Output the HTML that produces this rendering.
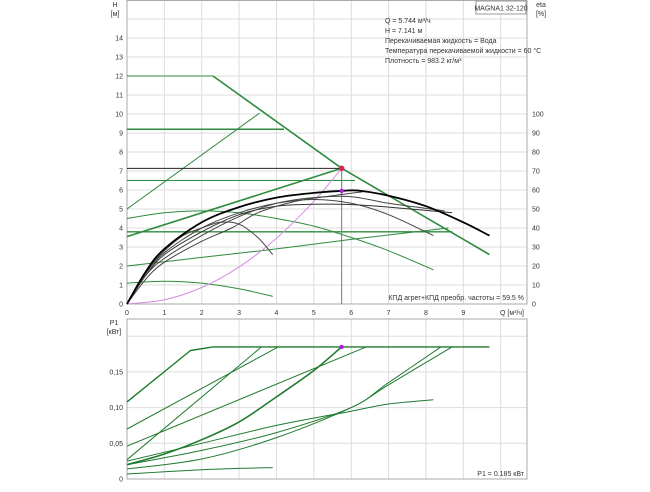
<!DOCTYPE html>
<html><head><meta charset="utf-8">
<style>
body{margin:0;background:#fff;font-family:"Liberation Sans","Noto Sans CJK SC",sans-serif;}
svg text{font-family:"Liberation Sans","DejaVu Sans",sans-serif;font-size:7px;fill:#333;}
</style></head>
<body>
<svg id="c" width="650" height="487" viewBox="0 0 650 487" xmlns="http://www.w3.org/2000/svg"></svg>
<script>
const qTicks=[0,1,2,3,4,5,6,7,8,9];
const hTicks=[0,1,2,3,4,5,6,7,8,9,10,11,12,13,14];
const etaTicks=[0,10,20,30,40,50,60,70,80,90,100];
const pTicks=[0,0.05,0.10,0.15];
const pTickLabels=["0","0,05","0,10","0,15"];
const dutyQ=5.744, dutyH=7.141, dutyEta=59.5, dutyP=0.185;
// H-curves (green)
const hMax=[[0,12],[2.3,12],[5.744,7.141],[9.7,2.6]];
const hLine2=[[0,5],[3.55,10.05]];
const hConst92=[[0,9.2],[4.2,9.2]];
const hConst65=[[0,6.5],[6.1,6.5]];
const hProp=[[0,3.55],[5.744,7.141]];
const hConst38=[[0,3.8],[8.7,3.8]];
const hLow=[[0,2],[2,2.45],[4,2.9],[6,3.4],[8.6,4.0]];
const hMid=[[0,4.5],[1,4.8],[2,4.9],[3,4.8],[4,4.5],[5,4.1],[6,3.5],[7,2.8],[8.2,1.8]];
const hMin=[[0,1.1],[1,1.2],[2,1.1],[3,0.8],[3.9,0.4]];
// efficiency curves (black, %)
const etaMain=[[0,0],[0.5,17],[1,29],[2,43],[3,51],[4,56],[5,58.5],[5.744,59.5],[6.2,59.7],[7,57],[8,51.5],[9,43],[9.7,36]];
const eta2=[[0,0],[0.5,16],[1,27],[2,40],[3,48],[4,53],[5,55],[6,53],[7,47],[8.2,36]];
const eta3=[[0,0],[0.5,15],[1,26],[2,38],[3,47],[4,51.5],[5,52.5],[6,52.3],[7,51],[8.7,48]];
const eta4=[[0,0],[0.5,17],[1,28],[1.5,36],[2,40],[2.5,43],[3,42],[3.5,35],[3.9,26]];
const eta5=[[0,0],[0.5,15],[1,24],[2,36],[3,46],[4,53],[5,56],[6,56.5],[7,53],[8.5,49]];
const eta6=[[0,0],[0.5,13],[1,22],[2,33],[2.8,40],[3.5,48],[4.5,54],[5.5,57],[6.3,59]];
// system curve (pink)
const sysCurve=[[0,0],[1,0.22],[2,0.87],[3,1.95],[4,3.46],[5,5.41],[5.744,7.141]];
// P1 curves (kW)
const pTop=[[0,0.108],[1.7,0.18],[2.3,0.185],[9.7,0.185]];
const p2=[[0,0.07],[4.05,0.185]];
const p3=[[0,0.027],[3.6,0.185]];
const p4=[[0,0.046],[6.4,0.185]];
const pDuty=[[0,0.02],[1,0.035],[2,0.055],[3,0.08],[4,0.115],[5,0.152],[5.744,0.185]];
const p6=[[0,0.025],[2,0.05],[4,0.075],[6,0.095],[7,0.105],[8.2,0.111]];
const p7=[[0,0.02],[2,0.04],[4,0.065],[6,0.1],[7,0.135],[8.4,0.185]];
const p8=[[0,0.014],[2,0.028],[4,0.058],[6,0.1],[7,0.132],[8.7,0.185]];
const p9=[[0,0.007],[2,0.013],[3.9,0.016]];

const X0=127,XPU=37.37,XR=527;
const xs=q=>X0+q*XPU;
const yH=h=>304-h*19;
const yE=e=>304-e*1.9;
const yP=p=>479-p*714;
const NS="http://www.w3.org/2000/svg";
const svg=document.getElementById('c');
function el(t,a,txt){const e=document.createElementNS(NS,t);for(const k in a)e.setAttribute(k,a[k]);if(txt!==undefined)e.textContent=txt;svg.appendChild(e);return e;}
function pathD(P,smooth){
  if(!smooth||P.length<3)return 'M'+P.map(p=>p[0].toFixed(1)+','+p[1].toFixed(1)).join(' L');
  let d='M'+P[0][0].toFixed(1)+','+P[0][1].toFixed(1);
  for(let i=0;i<P.length-1;i++){
    const p0=P[Math.max(0,i-1)],p1=P[i],p2=P[i+1],p3=P[Math.min(P.length-1,i+2)];
    const c1=[p1[0]+(p2[0]-p0[0])/6,p1[1]+(p2[1]-p0[1])/6];
    const c2=[p2[0]-(p3[0]-p1[0])/6,p2[1]-(p3[1]-p1[1])/6];
    d+=' C'+c1.map(v=>v.toFixed(1)).join(',')+' '+c2.map(v=>v.toFixed(1)).join(',')+' '+p2[0].toFixed(1)+','+p2[1].toFixed(1);
  }
  return d;
}
function poly(pts,fy,col,w,name,smooth){const P=pts.map(p=>[xs(p[0]),fy(p[1])]);
const e=el('path',{d:pathD(P,smooth!==false),fill:'none',stroke:col,'stroke-width':w,'stroke-linejoin':'round'});

return e;}
// top grid
for(const q of qTicks.concat([10])){const l=el('line',{x1:xs(q),x2:xs(q),y1:0,y2:304,stroke:'#ddd','stroke-width':1});}
for(const h of hTicks.concat([15])){const l=el('line',{x1:X0,x2:XR,y1:yH(h),y2:yH(h),stroke:'#ddd','stroke-width':1});}
let f=el('rect',{x:X0,y:0.5,width:XR-X0,height:303.5,fill:'none',stroke:'#aaa'});
for(const h of hTicks){const t=el('text',{x:X0-4,y:yH(h)+2.5,'text-anchor':'end'},String(h));}
for(const e of etaTicks){const t=el('text',{x:XR+5,y:yE(e)+2.5},String(e));}
for(const q of qTicks){const t=el('text',{x:xs(q),y:315,'text-anchor':'middle'},String(q));}
let t;
t=el('text',{x:115,y:7,'text-anchor':'middle'},'H');
t=el('text',{x:115,y:16,'text-anchor':'middle'},'[м]');
t=el('text',{x:541,y:7,'text-anchor':'middle'},'eta');
t=el('text',{x:541,y:16,'text-anchor':'middle'},'[%]');
t=el('text',{x:524,y:315,'text-anchor':'end'},'Q [м³/ч]');
let b=el('rect',{x:476,y:1,width:50,height:13,fill:'#fff',stroke:'#999'});
t=el('text',{x:501,y:10.5,'text-anchor':'middle'},'MAGNA1 32-120');
const info=['Q = 5.744 м³/ч','H = 7.141 м','Перекачиваемая жидкость = Вода','Температура перекачиваемой жидкости = 60 °C','Плотность = 983.2 кг/м³'];
info.forEach((s,i)=>{const e=el('text',{x:385,y:23+i*10},s);});
t=el('text',{x:524,y:300,'text-anchor':'end'},'КПД агрег+КПД преобр. частоты = 59.5 %');
// top series
const G='#2e8b3e',GD='#1f7a2f';
poly(hMax.slice(0,2),yH,G,1,'h-max-flat',false);
poly(hMax.slice(1),yH,G,1.6,'h-max-curve',false);
poly(hLine2,yH,G,1,'h-prop-high');
poly(hConst92,yH,G,1.5,'h-const-9-2');
poly(hConst65,yH,G,1,'h-const-6-5');
poly(hConst38,yH,G,1.3,'h-const-3-8');
poly(hLow,yH,G,1,'h-prop-low');
poly(hMid,yH,G,1,'h-mid-curve');
poly(hMin,yH,G,1,'h-min-curve');
poly(hProp,yH,G,1.6,'h-prop-duty');
poly(sysCurve,yH,'#d58be0',1,'system-curve');
let dl=el('line',{x1:X0,x2:xs(dutyQ),y1:yH(dutyH),y2:yH(dutyH),stroke:'#222','stroke-width':1});
dl=el('line',{x1:xs(dutyQ),x2:xs(dutyQ),y1:yH(dutyH),y2:304,stroke:'#777','stroke-width':1});
poly(eta4,yE,'#444',1,'eta-curve-4');
poly(eta2,yE,'#444',1,'eta-curve-2');
poly(eta3,yE,'#333',1,'eta-curve-3');
poly(eta5,yE,'#444',1,'eta-curve-5');
poly(eta6,yE,'#444',1,'eta-curve-6');
poly(etaMain,yE,'#000',1.8,'eta-main-curve');
let d=el('circle',{cx:xs(dutyQ),cy:yH(dutyH),r:2.8,fill:'#e0205a'});
d=el('circle',{cx:xs(dutyQ),cy:yE(dutyEta),r:2.2,fill:'#b020e0'});
// bottom grid
for(const q of qTicks.concat([10])){const l=el('line',{x1:xs(q),x2:xs(q),y1:319,y2:479,stroke:'#ddd'});}
for(const p of pTicks.concat([0.2])){const l=el('line',{x1:X0,x2:XR,y1:yP(p),y2:yP(p),stroke:'#ddd'});}
f=el('rect',{x:X0,y:319,width:XR-X0,height:160,fill:'none',stroke:'#aaa'});
pTicks.forEach((p,i)=>{const e=el('text',{x:X0-4,y:yP(p)+2.5,'text-anchor':'end'},pTickLabels[i]);});
t=el('text',{x:114,y:325,'text-anchor':'middle'},'P1');
t=el('text',{x:114,y:334,'text-anchor':'middle'},'[кВт]');
t=el('text',{x:524,y:476,'text-anchor':'end'},'P1 = 0.185 кВт');
poly(pTop,yP,GD,1.4,'p-curve-max',false);
[[p2,'p-curve-2',1],[p3,'p-curve-3',1],[p4,'p-curve-4',1],[p6,'p-curve-6',1],[p7,'p-curve-7',1],[p8,'p-curve-8',1],[p9,'p-curve-9',1],[pDuty,'p-curve-duty',1.6]].forEach(a=>poly(a[0],yP,GD,a[2],a[1]));
d=el('circle',{cx:xs(dutyQ),cy:yP(dutyP),r:2.2,fill:'#b020e0'});
</script>
</body></html>
